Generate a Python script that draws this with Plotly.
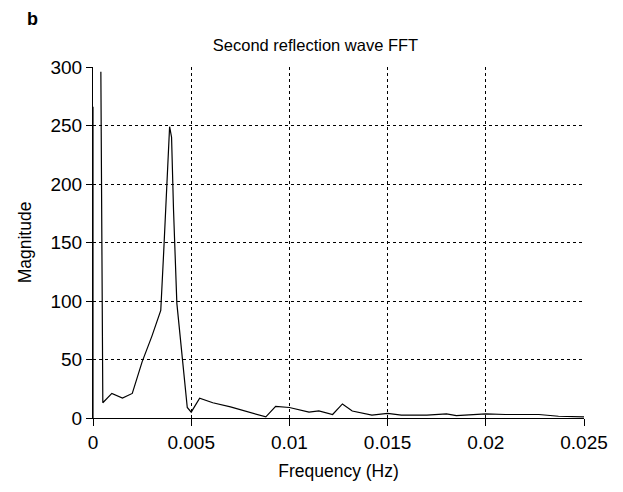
import plotly.graph_objects as go

freq = [0, 0, None, 0.0004, 0.0005, 0.00096, 0.0015, 0.002, 0.0025, 0.003, 0.00345,
        0.0036, 0.00375, 0.0039, 0.0040, 0.0041, 0.00427, 0.00457, 0.0048, 0.0050,
        0.00543, 0.0061, 0.007, 0.0088, 0.0093, 0.0100, 0.0110, 0.0115, 0.0122,
        0.0127, 0.0132, 0.0142, 0.0150, 0.0157, 0.0170, 0.0180, 0.0185, 0.0200,
        0.0210, 0.0227, 0.0237, 0.0250]
magnitude = [0, 266, None, 296, 13, 21, 17, 21, 48, 70, 92,
             142, 197, 249, 240, 178, 98, 50, 9, 5,
             17, 13, 9.5, 1, 10, 9, 5, 6, 3,
             12, 6, 2.5, 4, 2.5, 2.5, 3.5, 2, 3.5,
             3, 3, 1.5, 1]

x_ticks = [0, 0.005, 0.01, 0.015, 0.02, 0.025]
x_tick_labels = ["0", "0.005", "0.01", "0.015", "0.02", "0.025"]
y_ticks = [0, 50, 100, 150, 200, 250, 300]

font = "Liberation Sans, Arial, sans-serif"

fig = go.Figure()
fig.add_trace(go.Scatter(x=freq, y=magnitude, mode="lines",
                         line=dict(color="black", width=1.2),
                         connectgaps=False, showlegend=False))

fig.update_layout(
    width=615, height=484,
    margin=dict(l=85, r=39, t=59, b=74),
    paper_bgcolor="white", plot_bgcolor="white",
    font=dict(family=font, size=19, color="black"),
    title=dict(text="Second reflection wave FFT", x=0.5, xanchor="center",
               y=0.924, yanchor="middle", font=dict(size=16.5)),
    annotations=[dict(text="<b>b</b>", xref="paper", yref="paper",
                      x=-0.124, y=1.138, xanchor="center", yanchor="middle",
                      showarrow=False, font=dict(size=18))],
)
fig.update_xaxes(
    range=[0, 0.025], tickvals=x_ticks, ticktext=x_tick_labels,
    showline=True, linecolor="black", linewidth=1,
    ticks="outside", ticklen=7, tickcolor="black",
    showgrid=True, gridcolor="black", gridwidth=1, griddash="dot",
    zeroline=False, title=dict(text="Frequency (Hz)", standoff=12, font=dict(size=17.5)),
)
fig.update_yaxes(
    range=[0, 300], tickvals=y_ticks,
    showline=True, linecolor="black", linewidth=1,
    ticks="outside", ticklen=6, tickcolor="black",
    showgrid=True, gridcolor="black", gridwidth=1, griddash="dot",
    zeroline=False, title=dict(text="Magnitude", standoff=14, font=dict(size=17.5)),
)
fig.write_html("out.html")
